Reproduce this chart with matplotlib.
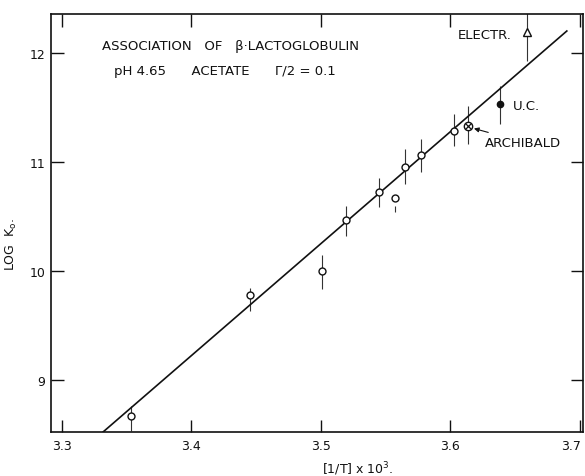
"""Association of beta-lactoglobulin: log K0 against 1/T (van 't Hoff plot)."""

import matplotlib
matplotlib.use("Agg")
import matplotlib.pyplot as plt
from matplotlib.transforms import ScaledTranslation

# open circles: sedimentation runs at several temperatures
inv_t = [3.3530, 3.4452, 3.5010, 3.5193, 3.5450, 3.5571, 3.5651, 3.5772, 3.6027]
log_k = [8.667, 9.780, 10.003, 10.471, 10.722, 10.667, 10.957, 11.064, 11.287]
err_lo = [8.535, 9.630, 9.835, 10.318, 10.584, 10.541, 10.798, 10.908, 11.147]
err_hi = [8.764, 9.840, 10.147, 10.599, 10.850, 10.596, 11.119, 11.211, 11.440]

# the other methods
arch_x, arch_y, arch_lo, arch_hi = 3.6137, 11.328, 11.165, 11.517
uc_x, uc_y, uc_lo, uc_hi = 3.6382, 11.532, 11.349, 11.700
el_x, el_y, el_lo, el_hi = 3.6596, 12.195, 11.929, 12.40

# fitted straight line
fit_x = [3.3317, 3.6900]
fit_y = [8.523, 12.202]

xticks = [3.3, 3.4, 3.5, 3.6, 3.7]
xtick_labels = ["3.3", "3.4", "3.5", "3.6", "3.7"]
yticks = [9, 10, 11, 12]

fig = plt.figure(figsize=(5.85, 4.77), dpi=100)
ax = fig.add_axes([51 / 585, 44 / 477, 532 / 585, 418 / 477])
ax.set_xlim(3.2915, 3.7025)
ax.set_ylim(8.523, 12.358)

ink = "#111111"

ax.plot(fit_x, fit_y, color=ink, linewidth=1.2, zorder=2)

# error bars
ax.vlines(inv_t, err_lo, err_hi, color="#333333", linewidth=0.8, zorder=1)
ax.vlines([arch_x, uc_x, el_x], [arch_lo, uc_lo, el_lo], [arch_hi, uc_hi, el_hi],
          color="#333333", linewidth=0.8, zorder=1)

ax.plot(inv_t, log_k, "o", markersize=5, markerfacecolor="white",
        markeredgecolor=ink, markeredgewidth=1.0, zorder=3)
ax.plot(arch_x, arch_y, "o", markersize=6, markerfacecolor="white",
        markeredgecolor=ink, markeredgewidth=1.0, zorder=3)
ax.plot(arch_x, arch_y, "x", markersize=4, color=ink, markeredgewidth=0.9, zorder=4)
ax.plot(uc_x, uc_y, "o", markersize=4.5, color=ink, zorder=3)
ax.plot(el_x, el_y, "^", markersize=6, markerfacecolor="white",
        markeredgecolor=ink, markeredgewidth=1.0, zorder=3)

txt = dict(color=ink, fontsize=9.5, family="DejaVu Sans")
ax.text(3.4305, 12.073, "ASSOCIATION   OF   β·LACTOGLOBULIN", ha="center", va="center", **txt)
ax.text(3.4259, 11.844, "pH 4.65      ACETATE      Γ/2 = 0.1", ha="center", va="center", **txt)
ax.text(3.6475, 12.174, "ELECTR.", ha="right", va="center", **txt)
ax.text(3.6485, 11.514, "U.C.", ha="left", va="center", **txt)
ax.annotate("ARCHIBALD", xy=(3.6172, 11.311), xytext=(3.6270, 11.183),
            ha="left", va="center",
            arrowprops=dict(arrowstyle="-|>", color=ink, linewidth=0.8,
                            mutation_scale=7, shrinkA=1, shrinkB=1),
            **txt)

ax.set_xticks(xticks)
ax.set_xticklabels(xtick_labels)
ax.set_yticks(yticks)
ax.tick_params(direction="in", length=9, width=1.0, top=True, right=True,
               labelsize=9, colors=ink, pad=5)
ax.tick_params(axis="y", pad=4)
for s in ax.spines.values():
    s.set_linewidth(1.2)
    s.set_color(ink)

# the last x label sits at the page edge; pull it in so it stays whole
last = ax.get_xticklabels()[-1]
last.set_transform(last.get_transform() + ScaledTranslation(-0.09, 0, fig.dpi_scale_trans))

ax.set_xlabel("[1/T] x 10$^3$.", fontsize=9, color=ink)
ax.set_ylabel("LOG  K$_\\mathrm{o}$.", fontsize=9, color=ink)
ax.xaxis.set_label_coords(0.577, -0.065)
ax.yaxis.set_label_coords(-0.06, 0.45)

fig.savefig("out.png", dpi=100)
